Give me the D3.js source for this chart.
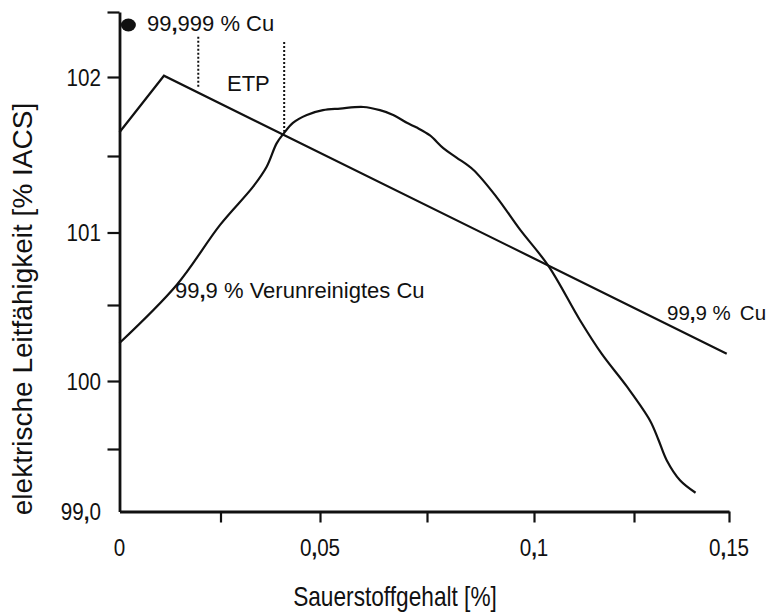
<!DOCTYPE html>
<html>
<head>
<meta charset="utf-8">
<script src="https://cdn.jsdelivr.net/npm/d3@7"></script>
<style>
  body { margin: 0; background: #fff; }
  text { font-family: "Liberation Sans", Arial, sans-serif; fill: #111; }
</style>
</head>
<body>
<svg id="chart" width="776" height="612"></svg>
<script>
// Sauerstoffgehalt [%] (x) vs. elektrische Leitfähigkeit [% IACS] (y)

// 99,9 % Cu: rises to a peak, then falls linearly
const pureCuX = [0, 0.011, 0.1494];
const pureCuY = [101.65, 102.01, 100.18];

// 99,9 % verunreinigtes Cu
const impureX = [0, 0.0142, 0.0249, 0.0332, 0.0366, 0.0391, 0.0408, 0.0432, 0.0467,
  0.0507, 0.0547, 0.0601, 0.064, 0.0671, 0.0703, 0.0726, 0.0757, 0.0788, 0.0819,
  0.0858, 0.0913, 0.0967, 0.1036, 0.1115, 0.1169, 0.1232, 0.1292, 0.1314, 0.1336,
  0.1371, 0.1412];
const impureY = [100.25, 100.64, 101.05, 101.30, 101.43, 101.58, 101.64, 101.71, 101.76,
  101.79, 101.80, 101.81, 101.79, 101.76, 101.71, 101.68, 101.63, 101.55, 101.49,
  101.41, 101.23, 101.02, 100.77, 100.40, 100.18, 99.96, 99.71, 99.57, 99.41,
  99.25, 99.15];

// ETP range markers (dotted verticals)
const etpX = [0.0195, 0.041];
const etpTop = [102.31, 102.27];
const etpBottom = [101.93, 101.654];

// 99,999 % Cu single point
const highPurityX = [0.0022];
const highPurityY = [102.4];

// Axis ticks and labels
const xTicks = [0.025, 0.05, 0.075, 0.1, 0.125, 0.15];
const xLabelValues = [0, 0.05, 0.1, 0.15];
const xLabels = ["0", "0,05", "0,1", "0,15"];
const yTicks = [99.5, 100, 100.5, 101, 101.5, 102, 102.5];
const yLabelValues = [99, 100, 101, 102];
const yLabels = ["99,0", "100", "101", "102"];

const svg = d3.select("#chart");

// Axis calibration (piecewise linear between gridline positions)
const x = d3.scaleLinear()
  .domain([0, 0.025, 0.05, 0.075, 0.1, 0.125, 0.15])
  .range([119.5, 220.5, 320, 427, 534, 634, 729]);
const y = d3.scaleLinear()
  .domain([99, 99.5, 100, 100.5, 101, 101.5, 102, 102.5])
  .range([511.5, 449, 381, 305, 232.5, 156, 77, 12]);

// Text with heavier decimal commas
function commaText(sel, str) {
  str.split(/(,)/).forEach(part => {
    if (!part) return;
    const t = sel.append("tspan").text(part);
    if (part === ",") t.attr("font-weight", "bold");
  });
}

// Axes
const xAxis = d3.axisBottom(x).tickValues(xTicks).tickFormat("").tickSize(11).tickSizeOuter(0);
const yAxis = d3.axisLeft(y).tickValues(yTicks).tickFormat("").tickSize(12).tickSizeOuter(0);

const gx = svg.append("g").attr("transform", `translate(0,${y(99)})`).call(xAxis);
const gy = svg.append("g").attr("transform", `translate(${x(0)},0)`).call(yAxis);
[gx, gy].forEach(g => {
  g.select(".domain").attr("stroke", "#111").attr("stroke-width", 2.8);
  g.selectAll(".tick line").attr("stroke", "#111").attr("stroke-width", 2.2);
});

// Tick labels
xLabelValues.forEach((v, i) => {
  const t = svg.append("text")
    .attr("transform", `translate(${x(v)},556) scale(0.86,1)`)
    .attr("text-anchor", "middle")
    .attr("font-size", 24);
  commaText(t, xLabels[i]);
});
yLabelValues.forEach((v, i) => {
  const t = svg.append("text")
    .attr("transform", `translate(101,${y(v) + 8.5}) scale(0.86,1)`)
    .attr("text-anchor", "end")
    .attr("font-size", 24);
  commaText(t, yLabels[i]);
});

// Axis titles
svg.append("text")
  .attr("transform", "translate(395,606) scale(0.84,1)")
  .attr("text-anchor", "middle")
  .attr("font-size", 27)
  .text("Sauerstoffgehalt [%]");
svg.append("text")
  .attr("transform", "translate(32,309) rotate(-90)")
  .attr("text-anchor", "middle")
  .attr("font-size", 28)
  .text("elektrische Leitfähigkeit [% IACS]");

// ETP dotted markers
svg.append("g").selectAll("line")
  .data(etpX)
  .join("line")
  .attr("x1", d => x(d)).attr("x2", d => x(d))
  .attr("y1", (d, i) => y(etpTop[i]))
  .attr("y2", (d, i) => y(etpBottom[i]))
  .attr("stroke", "#111")
  .attr("stroke-width", 2)
  .attr("stroke-dasharray", "2,2");

// Curves
const straight = d3.line().x(d => x(d[0])).y(d => y(d[1]));
const smooth = d3.line().x(d => x(d[0])).y(d => y(d[1])).curve(d3.curveCatmullRom.alpha(0.5));
svg.append("path")
  .datum(pureCuX.map((v, i) => [v, pureCuY[i]]))
  .attr("d", straight)
  .attr("fill", "none").attr("stroke", "#111").attr("stroke-width", 2.2);
svg.append("path")
  .datum(impureX.map((v, i) => [v, impureY[i]]))
  .attr("d", smooth)
  .attr("fill", "none").attr("stroke", "#111").attr("stroke-width", 2.2)
  .attr("stroke-linejoin", "round");

// 99,999 % Cu point
svg.append("g").selectAll("ellipse")
  .data(highPurityX)
  .join("ellipse")
  .attr("cx", d => x(d)).attr("cy", (d, i) => y(highPurityY[i]))
  .attr("rx", 7.5).attr("ry", 6.5)
  .attr("fill", "#111");

// Annotations
function note(px, py, str, size) {
  const t = svg.append("text").attr("x", px).attr("y", py).attr("font-size", size || 22);
  commaText(t, str);
  return t;
}
note(147, 31, "99,999 % Cu");
note(227, 91, "ETP");
note(175, 298, "99,9 % Verunreinigtes Cu");
note(667, 320, "99,9 %", 20.5).append("tspan").attr("dx", 9).text("Cu");
</script>
</body>
</html>
